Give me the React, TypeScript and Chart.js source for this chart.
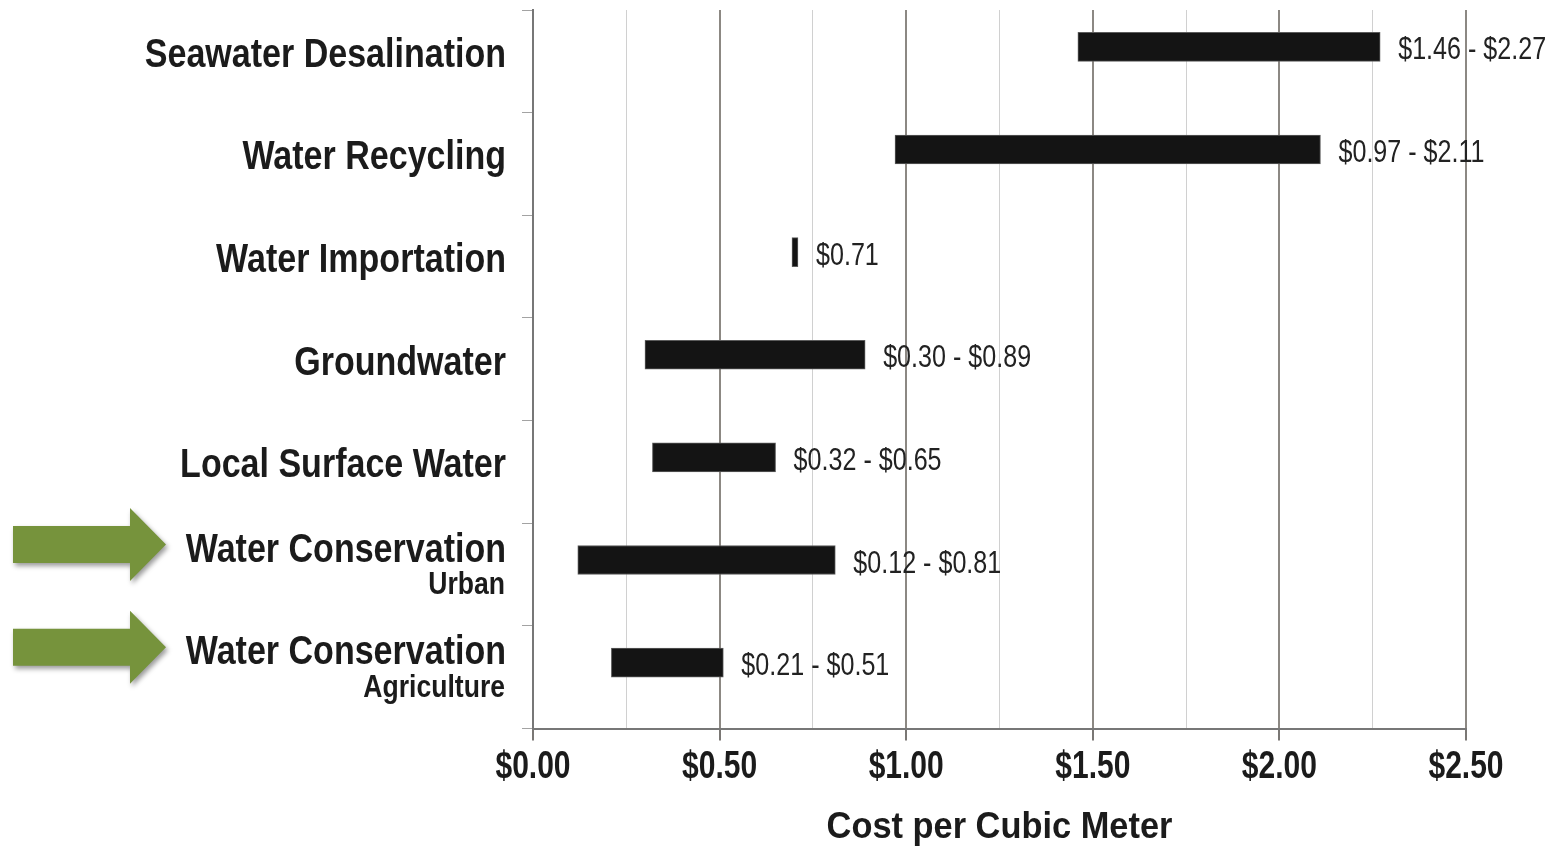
import React, { useEffect, useRef } from "react";
import { Chart, registerables } from "chart.js";

Chart.register(...registerables);

// Cost ranges per water source, US$ per cubic meter
const categories: string[][] = [
  ["Seawater Desalination"],
  ["Water Recycling"],
  ["Water Importation"],
  ["Groundwater"],
  ["Local Surface Water"],
  ["Water Conservation", "Urban"],
  ["Water Conservation", "Agriculture"],
];
const costLow = [1.46, 0.97, 0.71, 0.3, 0.32, 0.12, 0.21];
const costHigh = [2.27, 2.11, 0.71, 0.89, 0.65, 0.81, 0.51];
const highlighted = [false, false, false, false, false, true, true];

const axisMin = 0;
const axisMax = 2.5;
const axisStep = 0.25;
const axisTitle = "Cost per Cubic Meter";

const SANS = "'Liberation Sans', Arial, sans-serif";
const TEXT = "#1b1b1b";

const isMajor = (v: number) => Math.abs(v * 2 - Math.round(v * 2)) < 1e-6;
const money = (v: number) => "$" + v.toFixed(2);

// Condensed text: the sans face squeezed horizontally around its anchor
function narrowText(
  ctx: CanvasRenderingContext2D,
  text: string,
  x: number,
  y: number,
  font: string,
  align: CanvasTextAlign,
  squeeze: number
) {
  ctx.save();
  ctx.translate(x, y);
  ctx.scale(squeeze, 1);
  ctx.font = font;
  ctx.textAlign = align;
  ctx.textBaseline = "middle";
  ctx.fillText(text, 0, 0);
  ctx.restore();
}

// Category names, axis labels, range labels and highlight arrows
const annotations = {
  id: "annotations",
  afterDraw(chart: any) {
    const { ctx, scales } = chart;
    const x = scales.x;
    const y = scales.y;
    ctx.save();
    ctx.fillStyle = TEXT;

    // category names (right-aligned beside the axis)
    categories.forEach((lines, i) => {
      const cy = y.getPixelForValue(i);
      if (lines.length === 1) {
        narrowText(ctx, lines[0], 506, cy - 6, `bold 41px ${SANS}`, "right", 0.83);
      } else {
        narrowText(ctx, lines[0], 506, cy - 24, `bold 41px ${SANS}`, "right", 0.83);
        narrowText(ctx, lines[1], 505, cy + 11, `bold 32px ${SANS}`, "right", 0.83);
      }
    });

    // x tick labels at every half dollar
    x.ticks.forEach((t: any) => {
      if (!isMajor(t.value)) return;
      narrowText(ctx, money(t.value), x.getPixelForValue(t.value), x.top + 39.5, `bold 38px ${SANS}`, "center", 0.79);
    });

    // x axis title
    narrowText(ctx, axisTitle, (x.left + x.right) / 2, x.top + 99.5, `bold 36px ${SANS}`, "center", 0.955);

    // range labels beside the bars
    const meta = chart.getDatasetMeta(0);
    ctx.fillStyle = "#222";
    costLow.forEach((lo, i) => {
      const hi = costHigh[i];
      const txt = lo === hi ? money(hi) : `${money(lo)} - ${money(hi)}`;
      const bar = meta.data[i];
      narrowText(ctx, txt, x.getPixelForValue(hi) + 18, bar.y + 4, `normal 31px ${SANS}`, "left", 0.81);
    });

    // green arrows pointing at the conservation rows
    highlighted.forEach((on, i) => {
      if (!on) return;
      const cy = y.getPixelForValue(i) - 30;
      const tip = 166;
      ctx.save();
      ctx.shadowColor = "rgba(0,0,0,0.4)";
      ctx.shadowBlur = 5;
      ctx.shadowOffsetX = 2;
      ctx.shadowOffsetY = 3;
      ctx.fillStyle = "#76933c";
      ctx.beginPath();
      ctx.moveTo(13, cy - 18.5);
      ctx.lineTo(130, cy - 18.5);
      ctx.lineTo(130, cy - 36.5);
      ctx.lineTo(tip, cy);
      ctx.lineTo(130, cy + 36.5);
      ctx.lineTo(130, cy + 18.5);
      ctx.lineTo(13, cy + 18.5);
      ctx.closePath();
      ctx.fill();
      ctx.restore();
    });

    ctx.restore();
  },
};

export default function App() {
  const canvasRef = useRef<HTMLCanvasElement | null>(null);

  useEffect(() => {
    const canvas = canvasRef.current;
    if (!canvas) return;
    const chart = new Chart(canvas, {
      type: "bar",
      data: {
        labels: categories as any,
        datasets: [
          {
            label: "Cost range",
            data: costLow.map((lo, i) => [lo, costHigh[i]]) as any,
            backgroundColor: "#141414",
            borderColor: "#5c5c5c",
            borderWidth: 1,
            borderSkipped: false,
            barThickness: 29,
            minBarLength: 6,
            base: axisMax,
          } as any,
          {
            label: "",
            data: categories.map(() => null) as any,
            barThickness: 29,
          } as any,
        ],
      },
      options: {
        indexAxis: "y",
        animation: false,
        responsive: true,
        maintainAspectRatio: false,
        layout: { padding: { top: 10, right: 89, left: 0, bottom: 0 } },
        plugins: {
          legend: { display: false },
          tooltip: { enabled: false },
        },
        scales: {
          x: {
            type: "linear",
            min: axisMin,
            max: axisMax,
            position: "bottom",
            ticks: {
              display: false,
              stepSize: axisStep,
              autoSkip: false,
            },
            grid: {
              color: (c: any) => (isMajor(c.tick.value) ? "#8c8883" : "#d0d0d0"),
              lineWidth: (c: any) => (isMajor(c.tick.value) ? 2 : 1),
              tickColor: (c: any) => (isMajor(c.tick.value) ? "#7a7774" : "transparent"),
              tickLength: 12,
            },
            border: { display: true, color: "#777", width: 2 },
            title: { display: false },
            afterFit: (s: any) => {
              s.height = 121.5;
            },
          },
          y: {
            type: "category",
            offset: true,
            ticks: { display: false },
            grid: {
              offset: true,
              drawOnChartArea: false,
              color: "#a3a3a3",
              tickLength: 11,
            },
            border: { display: true, color: "#777", width: 2 },
            afterFit: (s: any) => {
              s.width = 533;
            },
          },
        },
      } as any,
      plugins: [annotations],
    });
    return () => chart.destroy();
  }, []);

  return (
    <div
      style={{
        position: "fixed",
        left: 0,
        top: 0,
        width: 1555,
        height: 850,
        background: "#fff",
      }}
    >
      <canvas ref={canvasRef} />
    </div>
  );
}
